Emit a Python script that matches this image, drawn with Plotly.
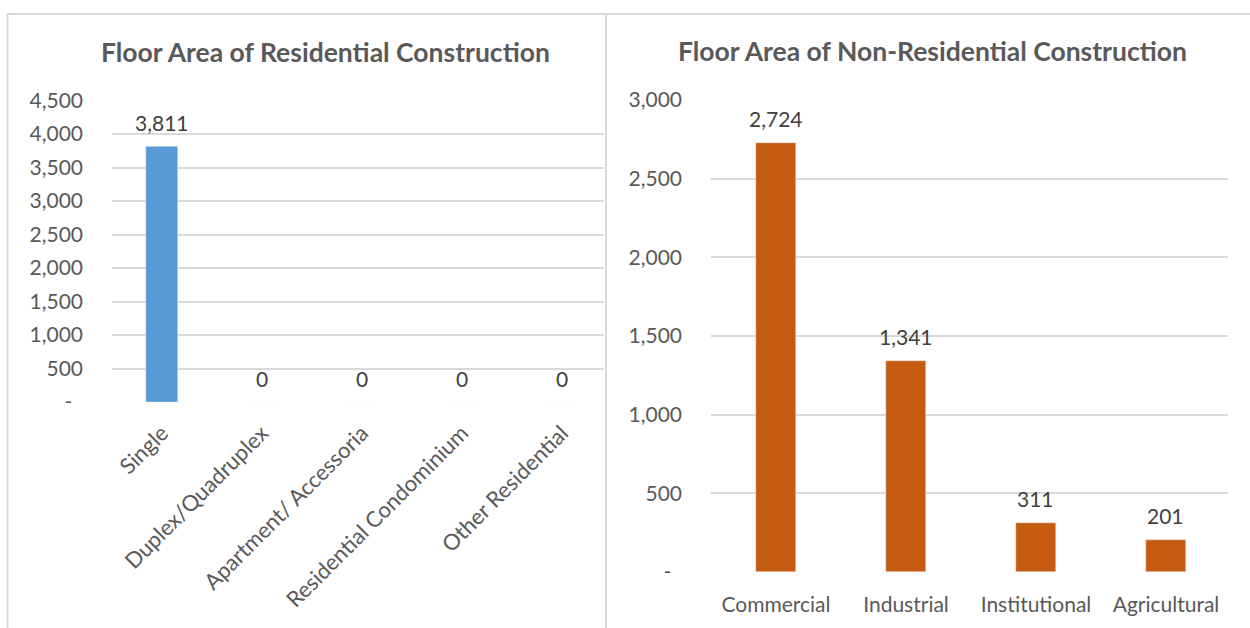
import plotly.graph_objects as go

# Residential floor area by building type
res_categories = ["Single", "Duplex/Quadruplex", "Apartment/ Accessoria",
                  "Residential Condominium", "Other Residential"]
res_values = [3811, 0, 0, 0, 0]
res_ticks = [0, 500, 1000, 1500, 2000, 2500, 3000, 3500, 4000, 4500]
res_ticktext = ["-\u00a0\u00a0", "500", "1,000", "1,500", "2,000", "2,500",
                "3,000", "3,500", "4,000", "4,500"]

# Non-residential floor area by building type
nonres_categories = ["Commercial", "Industrial", "Institutional", "Agricultural"]
nonres_values = [2724, 1341, 311, 201]
nonres_ticks = [0, 500, 1000, 1500, 2000, 2500, 3000]
nonres_ticktext = ["-\u00a0\u00a0", "500", "1,000", "1,500", "2,000", "2,500", "3,000"]

W, H = 1250, 628
FONT = "Lato"
AXIS_GREY = "#595959"
LABEL_GREY = "#404040"
GRID = "#D9D9D9"


def px_x(v):
    return v / W


def px_y(v):
    return 1 - v / H


fig = go.Figure()

fig.add_trace(go.Bar(
    x=res_categories, y=res_values, marker_color="#5B9BD5",
    width=0.32, xaxis="x", yaxis="y", hoverinfo="x+y",
))
fig.add_trace(go.Bar(
    x=nonres_categories, y=nonres_values, marker_color="#C55A11",
    width=0.315, xaxis="x2", yaxis="y2", hoverinfo="x+y",
))

label_font = dict(family=FONT, size=21, color=LABEL_GREY)
annotations = []
for cat, val in zip(res_categories, res_values):
    annotations.append(dict(
        x=cat, y=val, xref="x", yref="y", text=f"{val:,}", showarrow=False,
        yanchor="middle", yshift=24, font=label_font,
    ))
for cat, val in zip(nonres_categories, nonres_values):
    annotations.append(dict(
        x=cat, y=val, xref="x2", yref="y2", text=f"{val:,}", showarrow=False,
        yanchor="middle", yshift=25, font=label_font,
    ))

# Chart titles
title_font = dict(family=FONT, size=26.5, color=AXIS_GREY)
annotations.append(dict(
    x=px_x(325), y=px_y(52), xref="paper", yref="paper",
    text="<b>Floor Area of Residential Construction</b>", showarrow=False,
    xanchor="center", yanchor="middle", font=title_font,
))
annotations.append(dict(
    x=px_x(932), y=px_y(51), xref="paper", yref="paper",
    text="<b>Floor Area of Non-Residential Construction</b>", showarrow=False,
    xanchor="center", yanchor="middle", font=title_font,
))

# Chart frames
border = dict(color=GRID, width=2)
shapes = [
    dict(type="line", xref="paper", yref="paper",
         x0=px_x(7), x1=1.0, y0=px_y(14), y1=px_y(14), line=border),
    dict(type="line", xref="paper", yref="paper",
         x0=px_x(7.5), x1=px_x(7.5), y0=px_y(14), y1=0, line=border),
    dict(type="line", xref="paper", yref="paper",
         x0=px_x(606), x1=px_x(606), y0=px_y(14), y1=0, line=border),
]

tick_font = dict(family=FONT, size=21, color=AXIS_GREY)
slanted_font = dict(family=FONT, size=22, color=AXIS_GREY)

fig.update_layout(
    width=W, height=H,
    margin=dict(l=0, r=0, t=0, b=0, autoexpand=False),
    paper_bgcolor="white", plot_bgcolor="white",
    showlegend=False,
    bargap=0,
    annotations=annotations,
    shapes=shapes,
    xaxis=dict(
        domain=[px_x(112), px_x(604)], anchor="y", automargin=False,
        range=[-0.5, 4.42],
        tickangle=-45, tickfont=slanted_font, showgrid=False,
        showline=False, ticks="", ticklabelstandoff=13, fixedrange=True,
    ),
    yaxis=dict(
        domain=[px_y(402), px_y(100.5)], anchor="x", automargin=False,
        range=[0, 4500], tickvals=res_ticks, ticktext=res_ticktext,
        tickfont=tick_font, showgrid=True, gridcolor=GRID, gridwidth=1.5,
        zeroline=False, showline=False, ticks="", ticklabelstandoff=28,
    ),
    xaxis2=dict(
        domain=[px_x(711), px_x(1228)], anchor="y2", automargin=False,
        range=[-0.5, 3.477],
        tickangle=0, tickfont=tick_font, showgrid=False,
        showline=False, ticks="", ticklabelstandoff=18,
    ),
    yaxis2=dict(
        domain=[px_y(572), px_y(100)], anchor="x2", automargin=False,
        range=[0, 3000], tickvals=nonres_ticks, ticktext=nonres_ticktext,
        tickfont=tick_font, showgrid=True, gridcolor=GRID, gridwidth=1.5,
        zeroline=False, showline=False, ticks="", ticklabelstandoff=28,
    ),
)

fig.write_html("out.html")
